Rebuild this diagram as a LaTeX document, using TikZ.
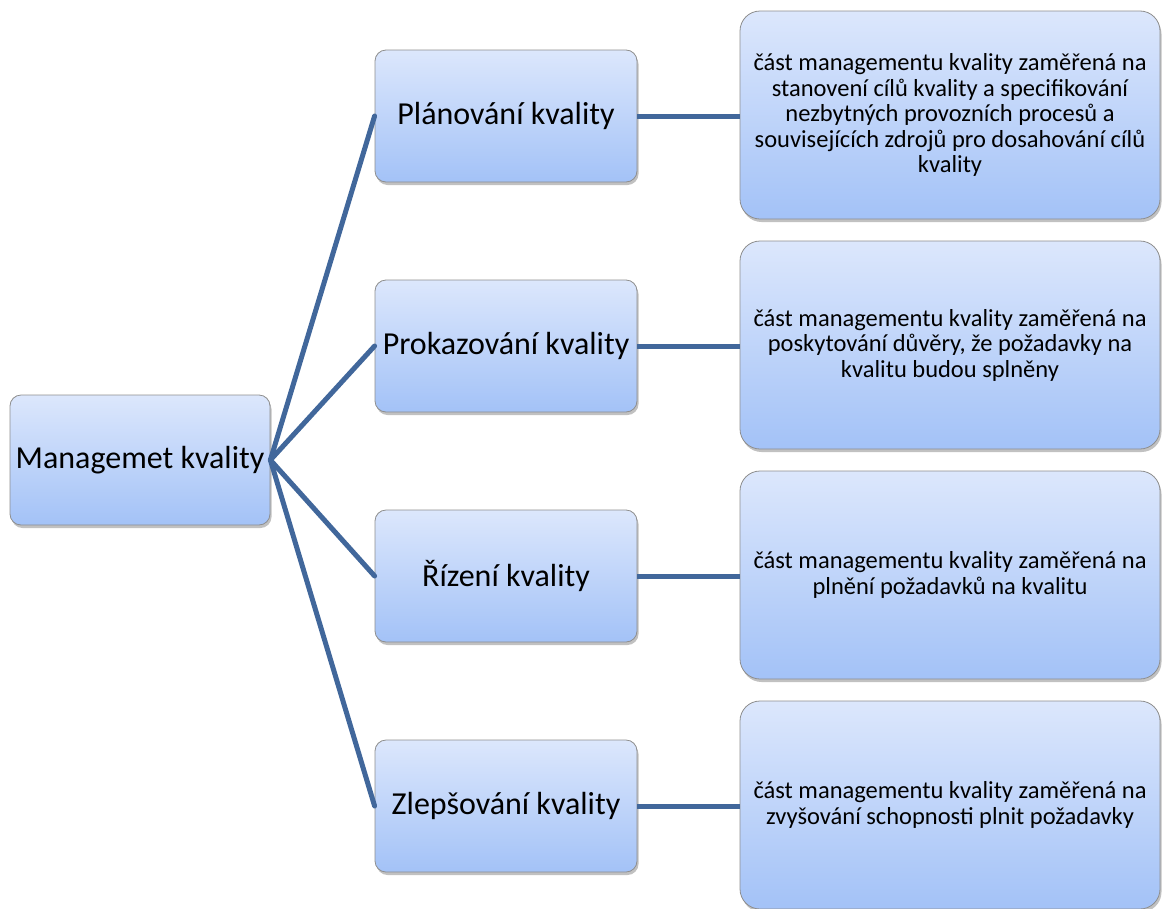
\documentclass[tikz,border=0pt]{standalone}
\usepackage{fontspec}
\setmainfont{Carlito}
\usetikzlibrary{shadows}
\definecolor{boxtop}{HTML}{DCE7FC}
\definecolor{boxbot}{HTML}{A3C2F7}
\definecolor{boxline}{HTML}{8E8E8E}
\definecolor{linkblue}{HTML}{41679B}
\begin{document}
\begin{tikzpicture}[x=1pt,y=-1pt,
  box/.style={draw=boxline, line width=0.8pt, top color=boxtop, bottom color=boxbot,
    align=center, inner sep=0pt, text=black,
    drop shadow={shadow xshift=1.5pt, shadow yshift=-3pt, opacity=0.35, fill=black!70}},
  mainbox/.style={box, rounded corners=11pt, minimum width=260pt, minimum height=130pt,
    font=\fontsize{32}{38}\selectfont},
  stagebox/.style={box, rounded corners=11pt, minimum width=262pt, minimum height=132pt,
    font=\fontsize{32}{38}\selectfont},
  descbox/.style={box, rounded corners=20pt, minimum width=420pt, minimum height=208pt,
    font=\fontsize{24.5}{25.5}\selectfont},
  link/.style={draw=linkblue, line width=5pt}]
\useasboundingbox (0,0) rectangle (1162,908);

% root concept
\node[mainbox] (root) at (140,460) {Managemet kvality};

% four stages
\node[stagebox] (s1) at (506,116) {Plánování kvality};
\node[stagebox] (s2) at (506,346) {Prokazování kvality};
\node[stagebox] (s3) at (506,576) {Řízení kvality};
\node[stagebox] (s4) at (506,806) {Zlepšování kvality};

% definitions
\node[descbox] (d1) at (950,115) {část managementu kvality zaměřená na\\stanovení cílů kvality a specifikování\\nezbytných provozních procesů a\\souvisejících zdrojů pro dosahování cílů\\kvality};
\node[descbox] (d2) at (950,345) {část managementu kvality zaměřená na\\poskytování důvěry, že požadavky na\\kvalitu budou splněny};
\node[descbox] (d3) at (950,575) {část managementu kvality zaměřená na\\plnění požadavků na kvalitu};
\node[descbox] (d4) at (950,805) {část managementu kvality zaměřená na\\zvyšování schopnosti plnit požadavky};

% connectors
\foreach \s in {s1,s2,s3,s4}{
  \draw[link, line cap=round] (root.east) -- (\s.west);
}
\foreach \s/\d in {s1/d1,s2/d2,s3/d3,s4/d4}{
  \draw[link] (\s.east) -- (\s.east -| \d.west);
}
\end{tikzpicture}
\end{document}
